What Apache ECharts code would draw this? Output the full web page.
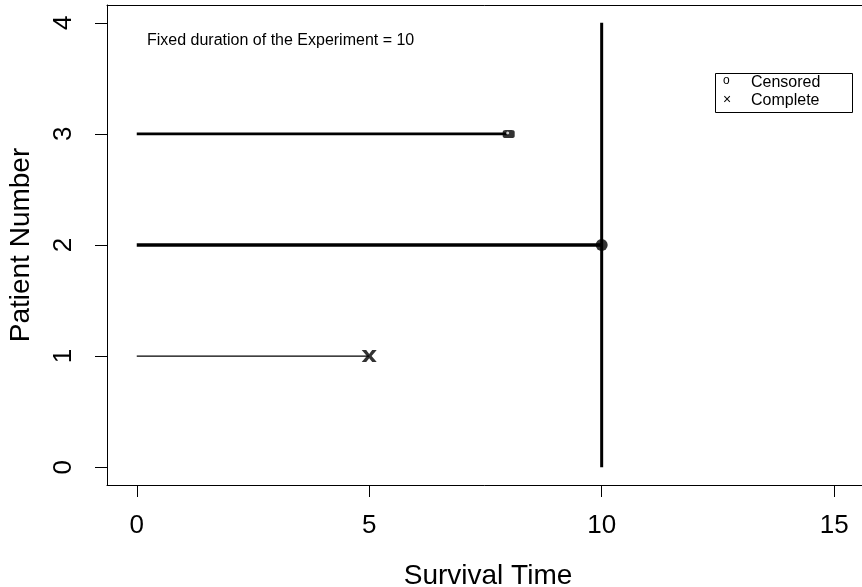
<!DOCTYPE html>
<html>
<head>
<meta charset="utf-8">
<script src="https://cdn.jsdelivr.net/npm/echarts@6/dist/echarts.min.js"></script>
<style>
html,body{margin:0;padding:0;background:#fff;}
#main{width:862px;height:587px;}
</style>
</head>
<body>
<div id="main"></div>
<script>
// ---- data ----
var patients = [1, 2, 3];
var survivalTimes = [5, 10, 8];
var startTimes = [0, 0, 0];
var lineWidths = [1.2, 3.5, 2.6];
var experimentDuration = 10;
var xTicks = [0, 5, 10, 15];
var yTicks = [0, 1, 2, 3, 4];
var legendLabels = ['Censored', 'Complete'];
var legendSymbols = ['o', '×'];
var annotation = 'Fixed duration of the Experiment = ' + experimentDuration;
var censored = [[8, 3]];
var censoredEnd = [[10, 2]];
var complete = [[5, 1]];

var FONT = '"Liberation Sans", Arial, Helvetica, sans-serif';
var chart = echarts.init(document.getElementById('main'), null, {renderer: 'canvas'});

var series = [];
patients.forEach(function (p, i) {
  series.push({
    type: 'line',
    data: [[startTimes[i], p], [survivalTimes[i], p]],
    symbol: 'none',
    lineStyle: {color: '#000', width: lineWidths[i]},
    silent: true,
    z: 2
  });
});
series.push({
  type: 'line',
  data: [[experimentDuration, yTicks[0]], [experimentDuration, yTicks[yTicks.length - 1]]],
  symbol: 'none',
  lineStyle: {color: '#000', width: 3},
  silent: true,
  z: 2
});
series.push({
  type: 'scatter',
  data: censored,
  symbol: 'roundRect',
  symbolSize: [12, 8],
  itemStyle: {color: '#000'},
  z: 3
});
series.push({
  type: 'scatter',
  data: censored,
  symbol: 'circle',
  symbolSize: 3,
  symbolOffset: [-1, -1],
  itemStyle: {color: '#fff'},
  z: 4
});
series.push({
  type: 'scatter',
  data: censoredEnd,
  symbol: 'circle',
  symbolSize: 12,
  itemStyle: {color: '#000'},
  z: 3
});
series.push({
  type: 'scatter',
  data: complete,
  symbol: 'path://M0,0L3,0L5,2.6L7,0L10,0L6.6,4L10,8L7,8L5,5.4L3,8L0,8L3.4,4Z',
  symbolSize: [15, 12],
  itemStyle: {color: '#000'},
  z: 3
});

var option = {
  backgroundColor: '#fff',
  animation: false,
  grid: {
    left: 107, top: 5, width: 762, height: 480,
    outerBoundsMode: 'none',
    containLabel: false,
    show: false
  },
  xAxis: [{
    type: 'value',
    min: -0.64, max: 15.75,
    name: 'Survival Time',
    nameLocation: 'middle',
    nameGap: 77,
    nameTextStyle: {fontSize: 28, color: '#000', fontFamily: FONT},
    axisLine: {show: true, onZero: false, lineStyle: {color: '#000', width: 1}},
    axisTick: {show: true, customValues: xTicks, length: 12, lineStyle: {color: '#000', width: 1}},
    axisLabel: {customValues: xTicks, fontSize: 26, color: '#000', fontFamily: FONT, margin: 28},
    splitLine: {show: false}
  }, {
    type: 'value',
    position: 'top',
    min: -0.64, max: 15.75,
    axisLine: {show: true, onZero: false, lineStyle: {color: '#000', width: 1}},
    axisTick: {show: false},
    axisLabel: {show: false},
    splitLine: {show: false}
  }],
  yAxis: {
    type: 'value',
    min: -0.16, max: 4.16,
    name: 'Patient Number',
    nameLocation: 'middle',
    nameGap: 72,
    nameTextStyle: {fontSize: 28, color: '#000', fontFamily: FONT},
    axisLine: {show: true, onZero: false, lineStyle: {color: '#000', width: 1}},
    axisTick: {show: true, customValues: yTicks, length: 12, lineStyle: {color: '#000', width: 1}},
    axisLabel: {customValues: yTicks, rotate: 90, fontSize: 26, color: '#000', fontFamily: FONT, margin: 30},
    splitLine: {show: false}
  },
  graphic: [
    {
      type: 'text', left: 147, top: 33,
      style: {text: annotation, fontSize: 16, fill: '#000', fontFamily: FONT}
    },
    {
      type: 'rect', left: 715, top: 73,
      shape: {width: 137, height: 39},
      style: {fill: '#fff', stroke: '#000', lineWidth: 1}
    },
    {
      type: 'text', left: 723, top: 75,
      style: {text: legendSymbols[0], fontSize: 12, fill: '#000', fontFamily: FONT}
    },
    {
      type: 'text', left: 723, top: 93,
      style: {text: legendSymbols[1], fontSize: 14, fill: '#000', fontFamily: FONT}
    },
    {
      type: 'text', left: 751, top: 75,
      style: {text: legendLabels[0], fontSize: 16, fill: '#000', fontFamily: FONT}
    },
    {
      type: 'text', left: 751, top: 93,
      style: {text: legendLabels[1], fontSize: 16, fill: '#000', fontFamily: FONT}
    }
  ],
  series: series
};
chart.setOption(option);
</script>
</body>
</html>
